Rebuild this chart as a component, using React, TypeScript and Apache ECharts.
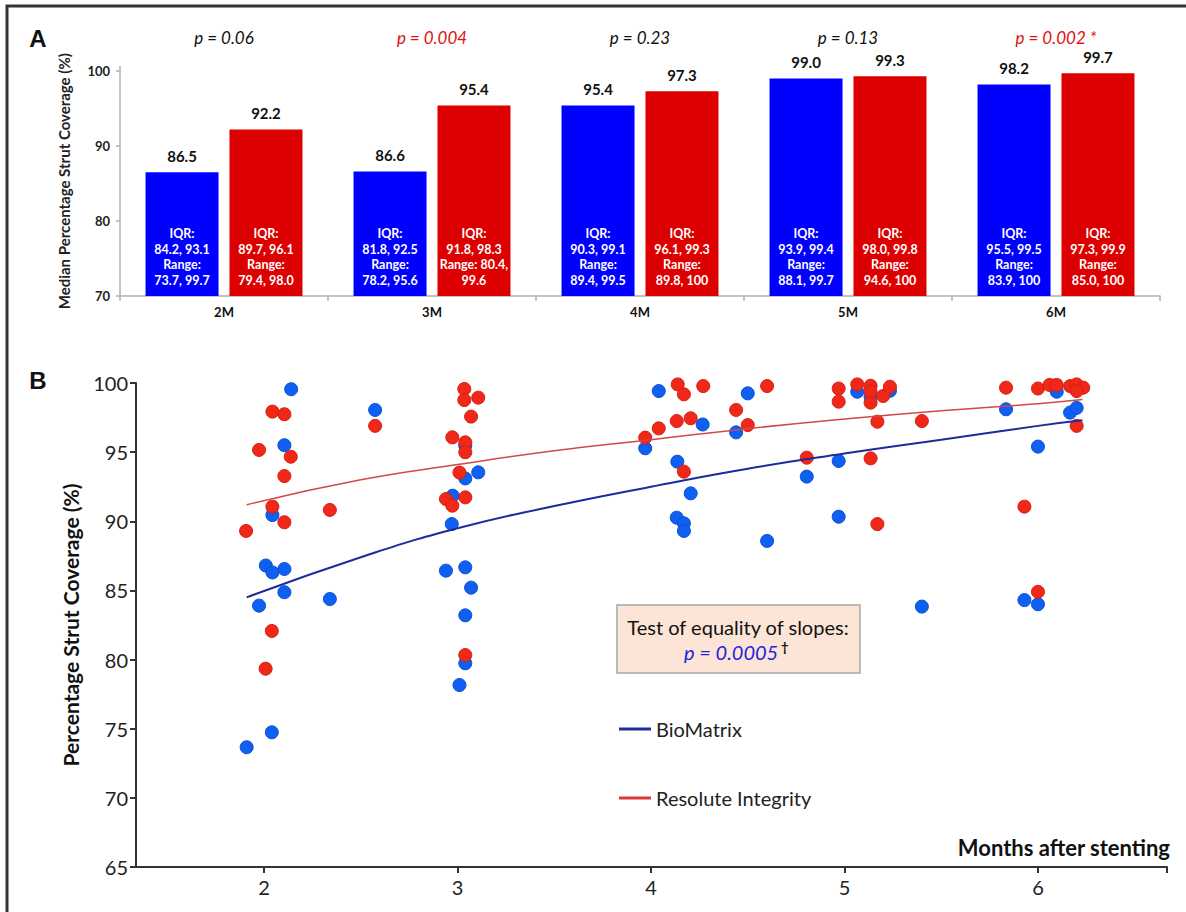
import React, { useEffect, useRef } from "react";
import * as echarts from "echarts";

// ---------- Panel A data ----------
const months = ["2M", "3M", "4M", "5M", "6M"];
const pLabels = ["p = 0.06", "p = 0.004", "p = 0.23", "p = 0.13", "p = 0.002 *"];
const pSignificant = [false, true, false, false, true];
const bioMedian = [86.5, 86.6, 95.4, 99.0, 98.2];
const resMedian = [92.2, 95.4, 97.3, 99.3, 99.7];
const bioBarText = [
  "IQR:\n84.2, 93.1\nRange:\n73.7, 99.7",
  "IQR:\n81.8, 92.5\nRange:\n78.2, 95.6",
  "IQR:\n90.3, 99.1\nRange:\n89.4, 99.5",
  "IQR:\n93.9, 99.4\nRange:\n88.1, 99.7",
  "IQR:\n95.5, 99.5\nRange:\n83.9, 100",
];
const resBarText = [
  "IQR:\n89.7, 96.1\nRange:\n79.4, 98.0",
  "IQR:\n91.8, 98.3\nRange: 80.4,\n99.6",
  "IQR:\n96.1, 99.3\nRange:\n89.8, 100",
  "IQR:\n98.0, 99.8\nRange:\n94.6, 100",
  "IQR:\n97.3, 99.9\nRange:\n85.0, 100",
];
const barYTicks = [70, 80, 90, 100];

// ---------- Panel B data ----------
const monthTicks = [2, 3, 4, 5, 6];
const bioPoints = [
  [2.14, 99.55], [2.105, 95.5], [2.043, 90.45], [2.009, 86.8], [2.043, 86.3],
  [2.105, 86.55], [2.105, 84.87], [1.974, 83.9], [2.34, 84.38], [2.574, 98.05],
  [3.04, 79.73], [3.01, 78.16], [2.04, 74.74], [1.91, 73.66],
  [2.97, 89.8], [2.975, 91.85], [3.04, 93.1], [3.107, 93.54], [3.04, 95.47],
  [2.94, 86.43], [3.04, 86.67], [3.07, 85.2], [3.04, 83.2],
  [4.04, 99.42], [3.97, 95.28], [4.267, 97.0], [4.136, 94.31], [4.205, 92.02],
  [4.133, 90.26], [4.17, 89.85], [4.17, 89.3], [4.5, 99.25], [4.44, 96.43], [4.6, 88.58],
  [5.066, 99.37], [5.135, 99.0], [5.235, 99.44], [4.97, 94.36], [4.805, 93.23],
  [4.97, 90.33], [5.4, 83.83], [5.835, 98.1], [6.166, 97.86], [6.2, 98.2],
  [6.0, 95.4], [5.93, 84.3], [6.0, 84.0], [6.097, 99.37],
];
const resPoints = [
  [2.043, 97.93], [2.105, 97.74], [1.974, 95.16], [2.138, 94.67], [2.105, 93.27],
  [2.043, 91.06], [2.105, 89.93], [1.907, 89.3], [2.34, 90.82], [2.574, 96.9],
  [2.04, 82.07], [2.008, 79.34], [3.04, 80.33],
  [3.035, 99.57], [3.035, 98.77], [3.107, 98.94], [3.07, 97.57], [2.973, 96.07],
  [3.04, 95.71], [3.04, 94.99], [3.01, 93.52], [2.94, 91.61], [2.973, 91.13], [3.04, 91.73],
  [4.138, 99.9], [4.17, 99.18], [4.27, 99.78], [3.97, 96.05], [4.04, 96.72],
  [4.133, 97.25], [4.205, 97.45], [4.17, 93.59], [4.44, 98.05], [4.5, 96.96], [4.6, 99.78],
  [4.97, 99.6], [4.97, 98.65], [5.066, 99.9], [5.135, 99.8], [5.135, 99.37],
  [5.135, 98.58], [5.2, 99.06], [5.235, 99.73], [5.17, 97.2], [5.4, 97.25],
  [4.805, 94.6], [5.135, 94.55], [5.17, 89.8], [5.835, 99.66], [6.0, 99.6],
  [6.06, 99.86], [6.097, 99.86], [6.166, 99.78], [6.2, 99.9], [6.234, 99.66],
  [6.2, 99.42], [6.2, 96.9], [5.93, 91.06], [6.0, 84.9],
];
const bioCurve = [
  [1.91, 84.5], [2.5, 87.4], [3, 89.5], [3.5, 91.1], [4, 92.5],
  [4.5, 93.8], [5, 94.9], [5.5, 95.9], [6, 96.9], [6.23, 97.3],
];
const resCurve = [
  [1.91, 91.2], [2.5, 93.0], [3, 94.1], [3.5, 95.1], [4, 95.9],
  [4.5, 96.7], [5, 97.4], [5.5, 98.0], [6, 98.5], [6.23, 98.8],
];

const FONT = "Lato, 'Open Sans', sans-serif";

export default function App() {
  const ref = useRef<HTMLDivElement>(null);

  useEffect(() => {
    document.body.style.margin = "0";
    if (!ref.current) return;
    const chart = echarts.init(ref.current, undefined, { renderer: "svg" });

    const zeros = months.map(() => 0);
    const barCommon = {
      type: "bar",
      xAxisIndex: 0,
      yAxisIndex: 0,
      barWidth: 73,
      barGap: "15%",
    };

    const option: any = {
      animation: false,
      backgroundColor: "#ffffff",
      textStyle: { fontFamily: FONT },
      grid: [
        { left: 120, right: 26, top: 66.5, height: 229.5 },
        { left: 136, right: 19, top: 383, height: 484 },
      ],
      xAxis: [
        {
          type: "category",
          gridIndex: 0,
          data: months,
          axisLine: { lineStyle: { color: "#b0b0b0", width: 1.5 } },
          axisTick: { show: true, length: 5, lineStyle: { color: "#b0b0b0", width: 1.5 } },
          axisLabel: { fontFamily: FONT, fontWeight: "bold", fontSize: 13, color: "#111", margin: 9 },
        },
        {
          type: "category",
          gridIndex: 0,
          position: "top",
          data: pLabels.map((p, i) => ({
            value: p,
            textStyle: { color: pSignificant[i] ? "#e01010" : "#111111" },
          })),
          axisLine: { show: false },
          axisTick: { show: false },
          axisLabel: { fontFamily: FONT, fontStyle: "italic", fontSize: 17, margin: 21 },
        },
        {
          type: "value",
          gridIndex: 1,
          min: 1.338,
          max: 6.667,
          splitLine: { show: false },
          axisLine: { lineStyle: { color: "#333", width: 2 } },
          axisTick: {
            show: true,
            length: 6,
            customValues: [...monthTicks, 6.667],
            lineStyle: { color: "#333", width: 2 },
          },
          axisLabel: { customValues: monthTicks, fontFamily: FONT, fontSize: 20, color: "#222", margin: 10 },
          name: "Months after stenting",
          nameLocation: "end",
          nameGap: 3,
          nameTextStyle: {
            fontFamily: FONT,
            fontWeight: "bold",
            fontSize: 22,
            color: "#111",
            align: "right",
            verticalAlign: "bottom",
            padding: [0, 0, 9, 0],
          },
        },
      ],
      yAxis: [
        {
          type: "value",
          gridIndex: 0,
          min: 70,
          max: 100.6,
          splitLine: { show: false },
          axisLine: { show: true, lineStyle: { color: "#b0b0b0", width: 1.5 } },
          axisTick: { show: true, length: 4, customValues: barYTicks, lineStyle: { color: "#b0b0b0", width: 1.5 } },
          axisLabel: { customValues: barYTicks, fontFamily: FONT, fontWeight: "bold", fontSize: 13, color: "#222", margin: 10 },
          name: "Median Percentage Strut Coverage (%)",
          nameLocation: "middle",
          nameGap: 49,
          nameTextStyle: { fontFamily: FONT, fontWeight: "bold", fontSize: 15, color: "#222" },
        },
        {
          type: "value",
          gridIndex: 1,
          min: 65,
          max: 100,
          interval: 5,
          splitLine: { show: false },
          axisLine: { show: true, lineStyle: { color: "#333", width: 2 } },
          axisTick: { show: true, length: 6, lineStyle: { color: "#333", width: 2 } },
          axisLabel: { fontFamily: FONT, fontSize: 20, color: "#222", margin: 8 },
          name: "Percentage Strut Coverage (%)",
          nameLocation: "middle",
          nameGap: 55,
          nameTextStyle: { fontFamily: FONT, fontWeight: "bold", fontSize: 21, color: "#111" },
        },
      ],
      legend: {
        data: ["BioMatrix", "Resolute Integrity"],
        orient: "vertical",
        left: 619,
        top: 718,
        padding: 0,
        itemWidth: 32,
        itemHeight: 3,
        itemGap: 47,
        icon: "rect",
        textStyle: { fontFamily: FONT, fontSize: 20, color: "#222", lineHeight: 22 },
      },
      series: [
        {
          ...barCommon,
          name: "BioMatrix median",
          stack: "bio",
          data: bioMedian,
          itemStyle: { color: "#0000ff" },
          label: {
            show: true,
            position: "insideBottom",
            distance: 8,
            formatter: (p: any) => bioBarText[p.dataIndex],
            color: "#ffffff",
            fontFamily: FONT,
            fontWeight: "bold",
            fontSize: 12.5,
            lineHeight: 15.5,
          },
        },
        {
          ...barCommon,
          name: "BioMatrix value",
          stack: "bio",
          data: zeros,
          itemStyle: { color: "#0000ff" },
          label: {
            show: true,
            position: "top",
            distance: 9,
            formatter: (p: any) => bioMedian[p.dataIndex].toFixed(1),
            color: "#111",
            fontFamily: FONT,
            fontWeight: "bold",
            fontSize: 15,
          },
        },
        {
          ...barCommon,
          name: "Resolute median",
          stack: "res",
          data: resMedian,
          itemStyle: { color: "#dd0000" },
          label: {
            show: true,
            position: "insideBottom",
            distance: 8,
            formatter: (p: any) => resBarText[p.dataIndex],
            color: "#ffffff",
            fontFamily: FONT,
            fontWeight: "bold",
            fontSize: 12.5,
            lineHeight: 15.5,
          },
        },
        {
          ...barCommon,
          name: "Resolute value",
          stack: "res",
          data: zeros,
          itemStyle: { color: "#dd0000" },
          label: {
            show: true,
            position: "top",
            distance: 9,
            formatter: (p: any) => resMedian[p.dataIndex].toFixed(1),
            color: "#111",
            fontFamily: FONT,
            fontWeight: "bold",
            fontSize: 15,
          },
        },
        {
          type: "scatter",
          name: "BioMatrix patients",
          xAxisIndex: 2,
          yAxisIndex: 1,
          data: bioPoints,
          symbolSize: 13,
          itemStyle: { color: "#0f5ff0", borderColor: "#0a4fd8", borderWidth: 1, opacity: 1 },
          z: 2,
        },
        {
          type: "scatter",
          name: "Resolute patients",
          xAxisIndex: 2,
          yAxisIndex: 1,
          data: resPoints,
          symbolSize: 13,
          itemStyle: { color: "#f0281a", borderColor: "#d81e10", borderWidth: 1, opacity: 1 },
          z: 3,
        },
        {
          type: "line",
          name: "BioMatrix",
          xAxisIndex: 2,
          yAxisIndex: 1,
          data: bioCurve,
          smooth: true,
          showSymbol: false,
          symbol: "none",
          itemStyle: { color: "#1b2c9b" },
          lineStyle: { color: "#1b2c9b", width: 2 },
          z: 4,
        },
        {
          type: "line",
          name: "Resolute Integrity",
          xAxisIndex: 2,
          yAxisIndex: 1,
          data: resCurve,
          smooth: true,
          showSymbol: false,
          symbol: "none",
          itemStyle: { color: "#d8383a" },
          lineStyle: { color: "#d24848", width: 1.5 },
          z: 4,
        },
      ],
      graphic: [
        {
          type: "rect",
          silent: true,
          shape: { x: 7, y: 6, width: 1200, height: 1000 },
          style: { fill: "none", stroke: "#333", lineWidth: 3 },
        },
        {
          type: "text",
          x: 38,
          y: 38,
          style: {
            text: "A",
            fill: "#111",
            font: "bold 24px 'Liberation Sans', Arial, sans-serif",
            textAlign: "center",
            textVerticalAlign: "middle",
          },
        },
        {
          type: "text",
          x: 38,
          y: 380,
          style: {
            text: "B",
            fill: "#111",
            font: "bold 24px 'Liberation Sans', Arial, sans-serif",
            textAlign: "center",
            textVerticalAlign: "middle",
          },
        },
        {
          type: "rect",
          shape: { x: 617, y: 605, width: 243, height: 68 },
          style: { fill: "#fce4d6", stroke: "#a6a6a6", lineWidth: 1.5 },
          z: 10,
        },
        {
          type: "text",
          x: 738,
          y: 627,
          z: 11,
          style: {
            text: "Test of equality of slopes:",
            fill: "#111",
            font: "20px Lato, sans-serif",
            textAlign: "center",
            textVerticalAlign: "middle",
          },
        },
        {
          type: "text",
          x: 684,
          y: 652,
          z: 11,
          style: {
            text: "p = 0.0005",
            fill: "#2424e0",
            font: "italic 20px Lato, sans-serif",
            textAlign: "left",
            textVerticalAlign: "middle",
          },
        },
        {
          type: "text",
          x: 781,
          y: 647,
          z: 11,
          style: {
            text: "†",
            fill: "#111",
            font: "bold 13px Lato, sans-serif",
            textAlign: "left",
            textVerticalAlign: "middle",
          },
        },
      ],
    };

    chart.setOption(option);
    return () => chart.dispose();
  }, []);

  return <div ref={ref} style={{ width: 1186, height: 912 }} />;
}
